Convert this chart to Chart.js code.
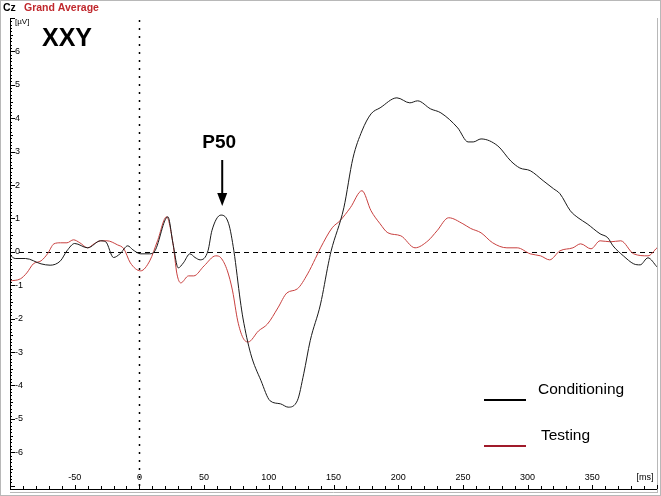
<!DOCTYPE html>
<html>
<head>
<meta charset="utf-8">
<title>Cz Grand Average</title>
<script src="https://cdn.jsdelivr.net/npm/chart.js@4/dist/chart.umd.min.js"></script>
<style>
  html, body { margin: 0; padding: 0; background: #fff; }
  #wrap { width: 661px; height: 496px; }
</style>
</head>
<body>
<div id="wrap"><canvas id="erp" width="661" height="496"></canvas></div>
<script>
// values (ms, µV)
const condTimes = [-100, -96, -88, -76, -69, -61, -56, -50, -40, -30, -26, -20, -15, -9, -5, 1, 8, 12, 22, 26, 30, 34, 39, 43, 47, 53, 56, 63, 69, 73, 78, 80, 86, 94, 101, 109, 115, 122, 127, 132, 140, 146, 148, 158, 165, 172, 179, 186, 199, 209, 215, 225, 233, 246, 254, 258, 264, 277, 287, 294, 302, 312, 320, 325, 333, 339, 346, 356, 362, 366, 374, 382, 387, 393, 400];
const condValues = [-0.1, -0.2, -0.2, -0.36, -0.4, -0.27, 0.03, 0.25, 0.12, 0.33, 0.3, -0.17, -0.06, 0.18, 0.06, -0.06, -0.06, 0.03, 1.05, 0.24, -0.48, -0.33, -0.06, -0.17, -0.24, 0.03, 0.63, 1.1, 0.84, 0.03, -1.47, -1.98, -3.05, -3.86, -4.46, -4.55, -4.65, -4.46, -3.65, -2.66, -1.56, -0.36, 0, 1.32, 2.8, 3.62, 4.13, 4.31, 4.61, 4.46, 4.52, 4.28, 4.16, 3.71, 3.29, 3.29, 3.38, 3.17, 2.72, 2.51, 2.43, 2.13, 1.89, 1.74, 1.23, 1.02, 0.84, 0.54, 0.42, 0.18, -0.12, -0.36, -0.39, -0.18, -0.45];

const testTimes = [-100, -92, -87, -82, -76, -71, -66, -61, -56, -51, -46, -40, -35, -30, -25, -17, -12, -7, 1, 8, 14, 21, 26, 29, 32, 38, 42, 50, 59, 63, 68, 72, 76, 80, 84, 92, 99, 107, 114, 122, 130, 136, 140, 149, 155, 163, 172, 179, 186, 192, 202, 213, 223, 230, 239, 250, 256, 264, 273, 284, 292, 302, 310, 317, 325, 335, 341, 349, 356, 364, 372, 382, 393, 400];
const testValues = [-0.87, -0.81, -0.63, -0.36, -0.27, -0.06, 0.24, 0.27, 0.27, 0.36, 0.27, 0.12, 0.24, 0.33, 0.33, 0.21, 0.09, -0.33, -0.57, -0.27, 0.33, 1.05, 0.24, -0.66, -0.93, -0.72, -0.72, -0.42, -0.12, -0.18, -0.57, -1.17, -2.07, -2.57, -2.7, -2.37, -2.16, -1.68, -1.23, -1.11, -0.66, -0.2, 0.12, 0.72, 0.93, 1.32, 1.83, 1.23, 0.84, 0.57, 0.48, 0.12, 0.33, 0.63, 1.02, 0.84, 0.7, 0.57, 0.27, 0.12, 0.12, -0.06, -0.12, -0.24, 0.03, 0.12, 0.24, 0.09, 0.33, 0.3, 0.33, -0.06, -0.12, 0.12];

const xTickLabels = [-50, 0, 50, 100, 150, 200, 250, 300, 350];
const yTickLabels = [6, 5, 4, 3, 2, 1, 0, -1, -2, -3, -4, -5, -6];
const seriesNames = ['Conditioning', 'Testing'];
const seriesColors = ['#1a1a1a', '#c8403f'];

const toPoints = (ts, vs) => ts.map((t, i) => ({ x: t, y: vs[i] }));

// axis furniture, all placed through the chart's own scales
const eegFrame = {
  id: 'eegFrame',
  beforeDatasetsDraw(chart) {
    const { ctx, chartArea: a, scales: { x, y } } = chart;
    ctx.save();
    // zero line
    ctx.strokeStyle = '#000';
    ctx.lineWidth = 1;
    ctx.setLineDash([5, 4]);
    ctx.beginPath();
    const y0 = Math.round(y.getPixelForValue(0)) + 0.5;
    ctx.moveTo(a.left, y0); ctx.lineTo(a.right, y0);
    ctx.stroke();
    // stimulus line
    ctx.setLineDash([2, 6]);
    ctx.lineWidth = 1.5;
    const x0 = Math.round(x.getPixelForValue(0)) + 0.5;
    ctx.beginPath();
    ctx.moveTo(x0, a.top + 2); ctx.lineTo(x0, a.bottom);
    ctx.stroke();
    ctx.restore();
  },
  afterDraw(chart) {
    const { ctx, chartArea: a, scales: { x, y } } = chart;
    ctx.save();
    // outer frame + right edge
    ctx.strokeStyle = '#b8b8b8';
    ctx.lineWidth = 1;
    ctx.strokeRect(0.5, 0.5, chart.width - 1, chart.height - 1);
    ctx.beginPath();
    ctx.moveTo(a.right + 0.5, a.top); ctx.lineTo(a.right + 0.5, a.bottom + 4);
    ctx.moveTo(a.left, a.bottom + 3.5); ctx.lineTo(a.right, a.bottom + 3.5);
    ctx.stroke();

    // axes
    ctx.strokeStyle = '#000';
    ctx.beginPath();
    ctx.moveTo(a.left + 0.5, a.top); ctx.lineTo(a.left + 0.5, a.bottom);
    ctx.moveTo(a.left, a.bottom + 0.5); ctx.lineTo(a.right, a.bottom + 0.5);
    // y ticks every 0.1 µV
    for (let v = -70; v <= 70; v++) {
      const py = Math.round(y.getPixelForValue(v / 10)) + 0.5;
      if (py < a.top || py > a.bottom) continue;
      const len = v % 10 === 0 ? 5 : (v % 5 === 0 ? 3 : 2);
      ctx.moveTo(a.left, py); ctx.lineTo(a.left + len, py);
    }
    // x ticks every 10 ms
    for (let t = -100; t <= 400; t += 10) {
      const px = Math.round(x.getPixelForValue(t)) + 0.5;
      const len = t % 50 === 0 ? 4 : 3;
      ctx.moveTo(px, a.bottom); ctx.lineTo(px, a.bottom - len);
    }
    ctx.stroke();

    ctx.fillStyle = '#000';
    ctx.font = '9px "Liberation Sans", Arial, sans-serif';
    ctx.textBaseline = 'middle';
    ctx.textAlign = 'left';
    yTickLabels.forEach(v => {
      ctx.fillText(String(v), a.left + 5, y.getPixelForValue(v));
    });
    ctx.font = '8px "Liberation Sans", Arial, sans-serif';
    ctx.fillText('[µV]', a.left + 5, a.top + 4);
    ctx.font = '9px "Liberation Sans", Arial, sans-serif';
    ctx.textAlign = 'center';
    xTickLabels.forEach(t => {
      ctx.fillText(String(t), x.getPixelForValue(t), a.bottom - 11);
    });
    ctx.fillText('[ms]', a.right - 12, a.bottom - 11);

    // header
    ctx.textAlign = 'left';
    ctx.font = 'bold 10.5px "Liberation Sans", Arial, sans-serif';
    ctx.fillText('Cz', 3, 8);
    ctx.fillStyle = '#c0282d';
    ctx.fillText('Grand Average', 24, 8);

    // group label
    ctx.fillStyle = '#000';
    ctx.font = 'bold 25px "Liberation Sans", Arial, sans-serif';
    ctx.fillText('XXY', 42, 39);

    // P50 marker
    const pxP = x.getPixelForValue(64);
    ctx.font = 'bold 19px "Liberation Sans", Arial, sans-serif';
    ctx.textAlign = 'center';
    ctx.fillText('P50', pxP - 3, 143);
    ctx.lineWidth = 2;
    ctx.beginPath();
    ctx.moveTo(pxP, 160); ctx.lineTo(pxP, 196);
    ctx.stroke();
    ctx.beginPath();
    ctx.moveTo(pxP - 5, 193); ctx.lineTo(pxP + 5, 193); ctx.lineTo(pxP, 206);
    ctx.closePath();
    ctx.fill();

    // legend
    ctx.font = '15.5px "Liberation Sans", Arial, sans-serif';
    ctx.textAlign = 'left';
    ctx.lineWidth = 2;
    const rows = [400, 446];
    seriesNames.forEach((name, i) => {
      ctx.strokeStyle = i === 0 ? '#000' : '#a01a2a';
      ctx.beginPath();
      ctx.moveTo(484, rows[i]); ctx.lineTo(526, rows[i]);
      ctx.stroke();
      ctx.fillStyle = '#000';
      ctx.fillText(name, i === 0 ? 538 : 541, rows[i] - 10);
    });
    ctx.restore();
  }
};

new Chart(document.getElementById('erp'), {
  type: 'line',
  data: {
    datasets: [
      { label: seriesNames[0], data: toPoints(condTimes, condValues), borderColor: seriesColors[0], borderWidth: 1, pointRadius: 0, cubicInterpolationMode: 'monotone' },
      { label: seriesNames[1], data: toPoints(testTimes, testValues), borderColor: seriesColors[1], borderWidth: 1, pointRadius: 0, cubicInterpolationMode: 'monotone' }
    ]
  },
  options: {
    responsive: false,
    animation: false,
    layout: { padding: { left: 10, top: 18, right: 4, bottom: 7 } },
    plugins: { legend: { display: false }, tooltip: { enabled: false }, title: { display: false } },
    scales: {
      x: { type: 'linear', display: false, min: -100, max: 400 },
      y: { type: 'linear', display: false, min: -7.1, max: 7 }
    }
  },
  plugins: [eegFrame]
});
</script>
</body>
</html>
